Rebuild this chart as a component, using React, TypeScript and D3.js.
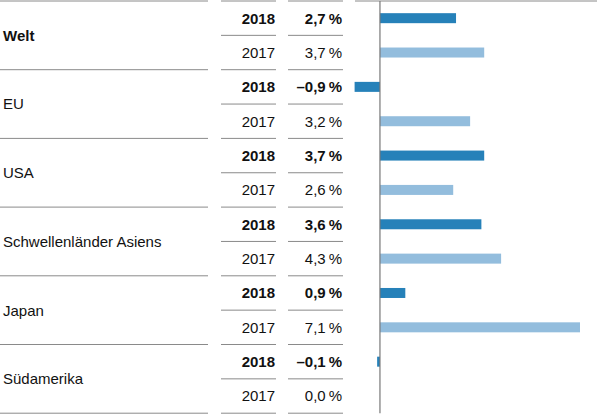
import React from "react";
import * as d3 from "d3";

const regions = ["Welt", "EU", "USA", "Schwellenländer Asiens", "Japan", "Südamerika"];
const years = ["2018", "2017"];
const values2018 = [2.7, -0.9, 3.7, 3.6, 0.9, -0.1];
const values2017 = [3.7, 3.2, 2.6, 4.3, 7.1, 0.0];

const width = 600;
const height = 416;
const top = 1;
const rowH = 34.35;
const dark = "#2681b9";
const light = "#93bddd";
const lineColor = "#8a8a8a";
const font = "'Liberation Sans', Arial, Helvetica, sans-serif";
const fontSize = 15;

const fmt = (v: number) => {
  const s = Math.abs(v).toFixed(1).replace(".", ",");
  return (v < 0 ? "\u2013" : "") + s + "\u2009%";
};

const App: React.FC = () => {
  const x = d3.scaleLinear().domain([-0.9, 7.1]).range([354.6, 580]);
  const y = d3.scaleLinear().domain([0, regions.length * 2]).range([top, top + rowH * regions.length * 2]);
  const x0 = x(0);

  const rows = regions.flatMap((r, i) => [
    { region: r, gi: i, year: years[0], value: values2018[i], idx: i * 2 },
    { region: r, gi: i, year: years[1], value: values2017[i], idx: i * 2 + 1 },
  ]);

  return (
    <svg
      width={width}
      height={height}
      style={{ position: "absolute", left: 0, top: 0, display: "block", fontFamily: font }}
    >
      {/* group separators, label column */}
      {d3.range(regions.length + 1).map((g) => (
        <line key={"g" + g} x1={0} x2={208} y1={y(g * 2)} y2={y(g * 2)} stroke={lineColor} />
      ))}
      {/* row separators, year and value columns */}
      {d3.range(regions.length * 2 + 1).map((k) => (
        <g key={"r" + k}>
          <line x1={221} x2={276} y1={y(k)} y2={y(k)} stroke={lineColor} />
          <line x1={288} x2={343} y1={y(k)} y2={y(k)} stroke={lineColor} />
        </g>
      ))}
      <line x1={355} x2={597} y1={y(0)} y2={y(0)} stroke={lineColor} />

      {regions.map((r, i) => (
        <text
          key={r}
          x={3}
          y={y(i * 2 + 1)}
          dy="0.36em"
          fontSize={fontSize}
          fontWeight={i === 0 ? "bold" : "normal"}
          fill="#111"
        >
          {r}
        </text>
      ))}

      {rows.map((d) => {
        const cy = y(d.idx + 0.5);
        const is18 = d.year === "2018";
        return (
          <g key={d.idx}>
            <text x={275} y={cy} dy="0.36em" textAnchor="end" fontSize={fontSize} fontWeight={is18 ? "bold" : "normal"} fill="#111">
              {d.year}
            </text>
            <text x={342} y={cy} dy="0.36em" textAnchor="end" fontSize={fontSize} fontWeight={is18 ? "bold" : "normal"} fill="#111">
              {fmt(d.value)}
            </text>
            <rect
              x={Math.min(x(d.value), x0)}
              y={cy - 5}
              width={Math.abs(x(d.value) - x0)}
              height={10}
              fill={is18 ? dark : light}
            />
          </g>
        );
      })}

      <line x1={x0} x2={x0} y1={y(0)} y2={y(regions.length * 2)} stroke="#777" strokeWidth={1.2} />
    </svg>
  );
};

export default App;
